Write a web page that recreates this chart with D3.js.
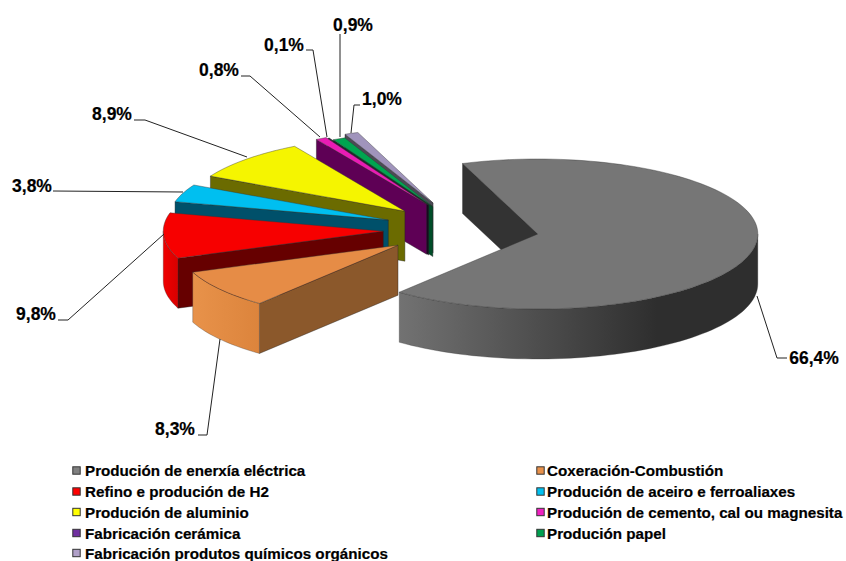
<!DOCTYPE html>
<html lang="gl"><head><meta charset="utf-8">
<script src="https://cdn.jsdelivr.net/npm/d3@7/dist/d3.min.js"></script>
<style>
html,body{margin:0;padding:0;background:#fff}
svg{display:block}
text{font-family:"Liberation Sans",Arial,sans-serif;font-weight:700;fill:#000;stroke:#000;stroke-width:.2px}
</style></head><body><div id="chart"></div>
<script>
// Data
const categories = ["Produción de enerxía eléctrica","Coxeración-Combustión","Refino e produción de H2","Produción de aceiro e ferroaliaxes","Produción de aluminio","Produción de cemento, cal ou magnesita","Fabricación cerámica","Produción papel","Fabricación produtos químicos orgánicos"];
const values = [66.4,8.3,9.8,3.8,8.9,0.8,0.1,0.9,1.0];
const labels = ["66,4%","8,3%","9,8%","3,8%","8,9%","0,8%","0,1%","0,9%","1,0%"];

// Styles
const topColors = ["#767676","#e68c46","#f70000","#00bff0","#f5f500","#e81cb4","#1e0c2c","#00a550","#a094bc"];
const sideColors = ["#333333","#8b582b","#660000","#00506a","#6b6b00","#5e0055","#160a20","#004d28","#4c4a55"];
const wallFrom = ["#727272","#e8924a","#f00000","#00a0c8","#d0d000","#c010a0","#401060","#008040","#807898"];
const wallTo = ["#2e2e2e","#dc843c","#d80000","#0080a0","#a0a000","#900080","#301050","#006030","#605878"];
const legendColors = ["#808080","#e8914a","#ff0000","#00c0f0","#ffff00","#f020c0","#7030a0","#00a050","#b0a0c8"];

// Layout
const W=846,H=561,cx=461,cy=229.6,rx=220,ry=75,depth=50,explode=0.354;
const apexNudge=[[0,0],[0,0],[0,0],[0,0],[0,0],[3,-2],[3,-1],[5,1],[1,-2]];
const labelPos=[[814,358],[175,429],[36,314],[32,186],[112,114],[219,70],[284,45],[353,25],[382,99]];
const leaders=[
 [[757,296],[777,358],[787,358]],
 [[220,339],[207,435],[198,435]],
 [[164,234],[68,320],[58,320]],
 [[183,192],[53,191]],
 [[247,157],[145,120],[134,120]],
 [[320,137],[250,76],[241,76]],
 [[327,137],[313,50],[306,50]],
 [[340,137],[340,34]],
 [[351,133],[354,105],[360,105]]];
const legendRows=[470.5,470.5,491.5,491.5,512,512,533,533,553];
const legendMarkX=[76.5,540.5];
const legendTextX=[85,547];

const svg=d3.select("#chart").append("svg").attr("width",W).attr("height",H);
const defs=svg.append("defs");
const pie=d3.pie().sort(null).value(d=>d).startAngle(-20*Math.PI/180).endAngle(340*Math.PI/180);
const arcs=pie(values);
const sx=d3.scaleLinear().domain([-1,1]).range([cx-rx,cx+rx]);
const sy=d3.scaleLinear().domain([-1,1]).range([cy-ry,cy+ry]);
const line=d3.line().x(d=>d[0]).y(d=>d[1]);
function pt(a,r,off,n){return [sx(off[0]+r*Math.sin(a))+n[0],sy(off[1]-r*Math.cos(a))+n[1]];}
function angles(a0,a1){const n=Math.max(2,Math.ceil((a1-a0)/(Math.PI/90)));return d3.range(n+1).map(i=>a0+(a1-a0)*i/n);}

// back-to-front painter's order
const order=[8,7,6,5,4,3,2,1,0];
const g=svg.append("g");
order.forEach(i=>{
  const d=arcs[i],mid=(d.startAngle+d.endAngle)/2,n=apexNudge[i];
  const off=[explode*Math.sin(mid),-explode*Math.cos(mid)];
  const apex=pt(0,0,off,n);
  const down=p=>[p[0],p[1]+depth];
  if(Math.sin(d.startAngle)<0){
    const rim=pt(d.startAngle,1,off,n);
    g.append("path").attr("d",line([apex,rim,down(rim),down(apex)])+"Z")
     .attr("fill",sideColors[i]).attr("stroke","#222").attr("stroke-width",.4);
  }
  const a0=Math.max(d.startAngle,Math.PI/2),a1=Math.min(d.endAngle,3*Math.PI/2);
  if(a1>a0){
    const id="wall"+i;
    const gr=defs.append("linearGradient").attr("id",id);
    gr.append("stop").attr("offset","0").attr("stop-color",wallFrom[i]);
    gr.append("stop").attr("offset",i===0?"0.72":"1").attr("stop-color",wallTo[i]);
    const tp=angles(a0,a1).map(a=>pt(a,1,off,n));
    g.append("path").attr("d",line(tp.concat(tp.map(down).reverse()))+"Z")
     .attr("fill",`url(#${id})`).attr("stroke","#333").attr("stroke-width",.3);
  }
  const rimPts=angles(d.startAngle,d.endAngle).map(a=>pt(a,1,off,n));
  g.append("path").attr("d",line([apex].concat(rimPts))+"Z")
   .attr("fill",topColors[i]).attr("stroke","#333").attr("stroke-width",.4);
});

// leaders and labels
svg.append("g").selectAll("path").data(leaders).join("path")
  .attr("d",d=>line(d)).attr("fill","none").attr("stroke","#222").attr("stroke-width",1);
svg.append("g").selectAll("text").data(labels).join("text")
  .attr("x",(d,i)=>labelPos[i][0]).attr("y",(d,i)=>labelPos[i][1]).attr("text-anchor","middle")
  .attr("dominant-baseline","central").attr("font-size",17.5).text(d=>d);

// legend
const lg=svg.append("g").selectAll("g").data(categories).join("g");
lg.append("rect").attr("x",(d,i)=>legendMarkX[i%2]-3.7).attr("y",(d,i)=>legendRows[i]-3.7).attr("width",7.4).attr("height",7.4)
  .attr("fill",(d,i)=>legendColors[i]).attr("stroke","#333").attr("stroke-width",1);
lg.append("text").attr("x",(d,i)=>legendTextX[i%2]).attr("y",(d,i)=>legendRows[i]).attr("dominant-baseline","central")
  .attr("font-size",15.2).text(d=>d);
</script></body></html>
